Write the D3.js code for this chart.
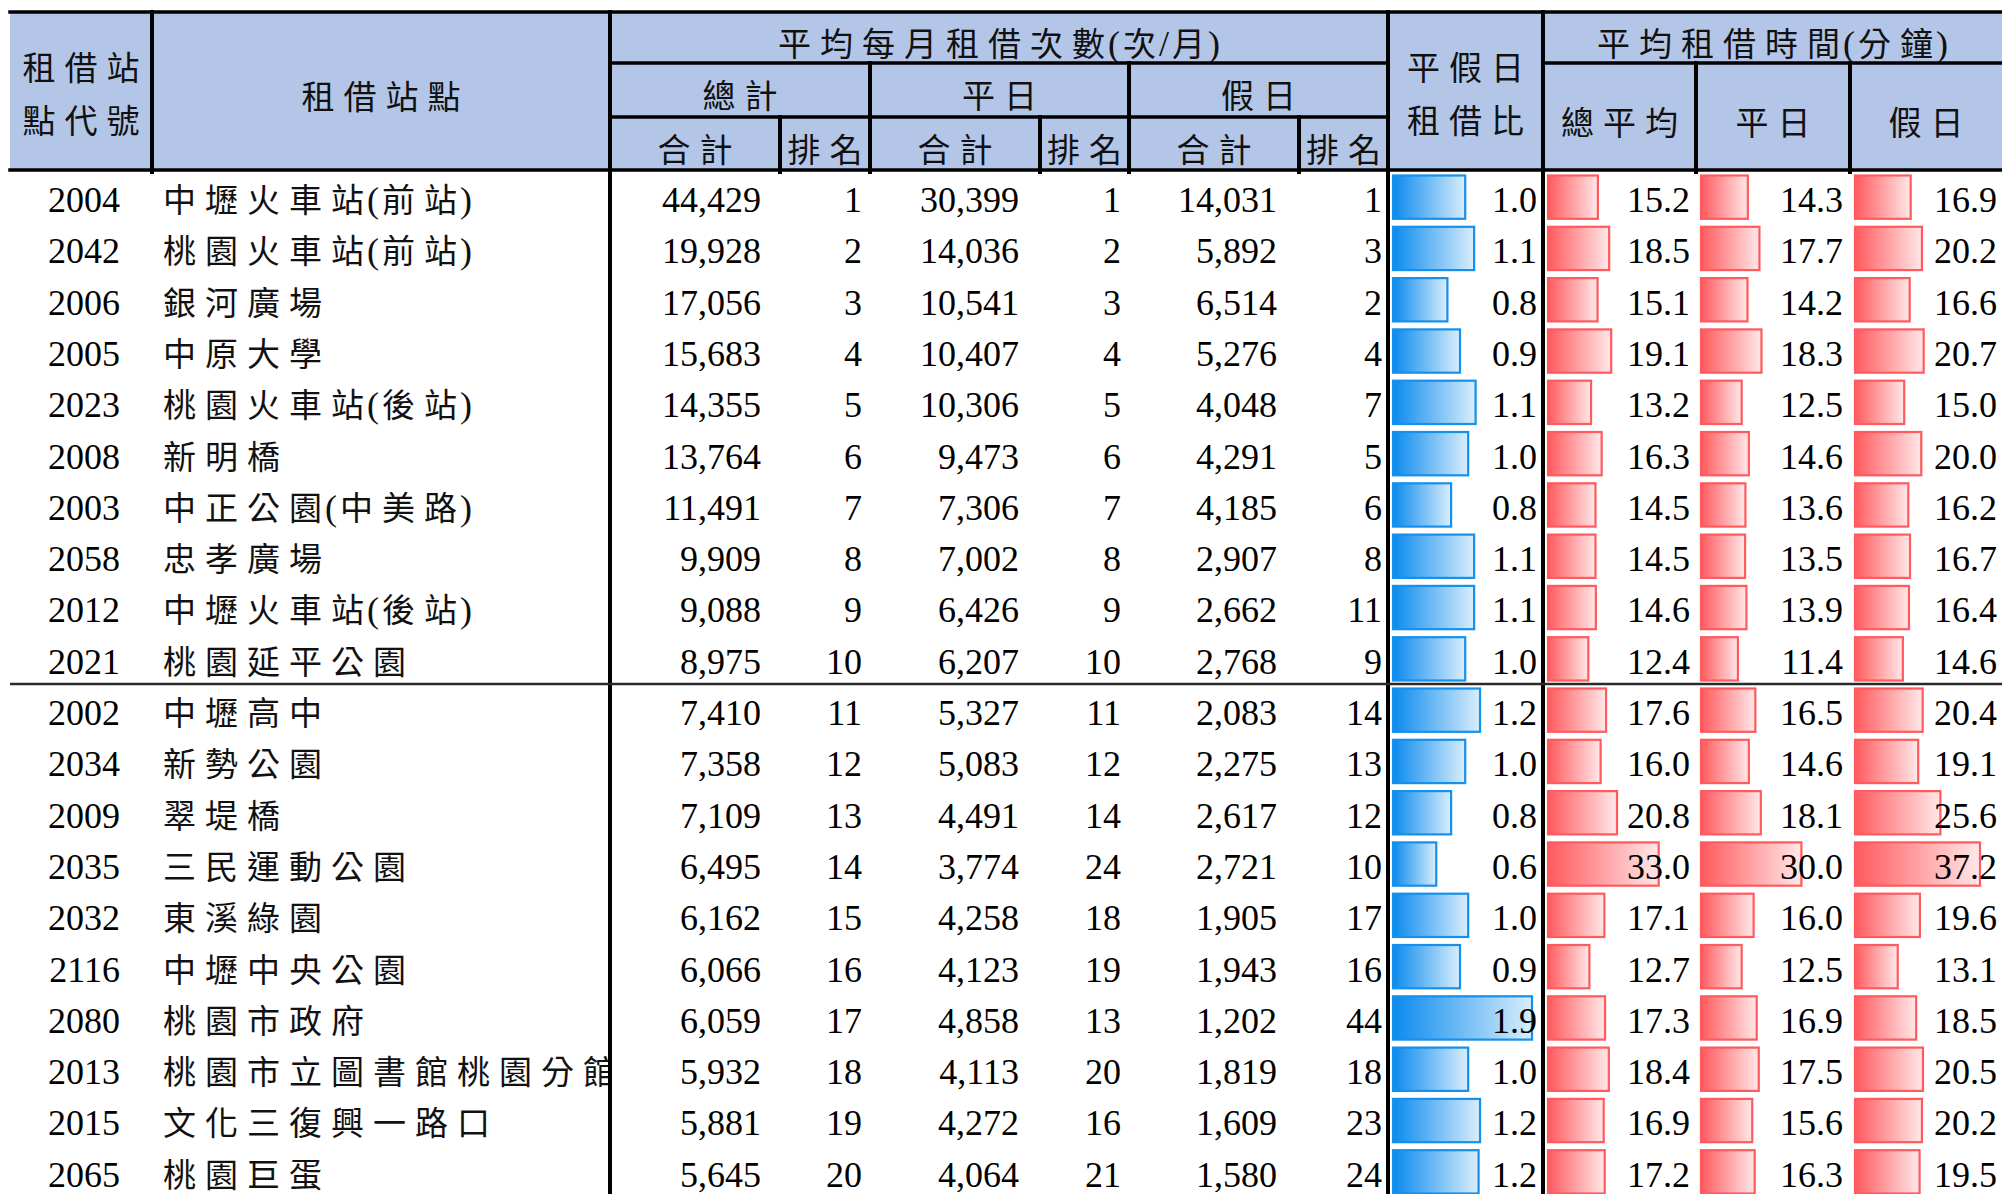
<!DOCTYPE html>
<html lang="zh-Hant">
<head>
<meta charset="utf-8">
<title>租借站點統計</title>
<script src="https://d3js.org/d3.v7.min.js"></script>
<style>
  body { margin: 0; background: #fff; overflow: hidden; }
  .num { font-family: "Liberation Serif", "Times New Roman", serif; font-size: 36px; fill: #000; }
  .cjk { font-family: "Liberation Serif", "Noto Sans CJK TC", serif; font-size: 33px; fill: #111; }
</style>
</head>
<body>
<script>
var codes = ["2004","2042","2006","2005","2023","2008","2003","2058","2012","2021",
             "2002","2034","2009","2035","2032","2116","2080","2013","2015","2065"];
var names = ["中壢火車站(前站)","桃園火車站(前站)","銀河廣場","中原大學","桃園火車站(後站)",
             "新明橋","中正公園(中美路)","忠孝廣場","中壢火車站(後站)","桃園延平公園",
             "中壢高中","新勢公園","翠堤橋","三民運動公園","東溪綠園",
             "中壢中央公園","桃園市政府","桃園市立圖書館桃園分館","文化三復興一路口","桃園巨蛋"];
var totalCnt  = [44429,19928,17056,15683,14355,13764,11491,9909,9088,8975,
                 7410,7358,7109,6495,6162,6066,6059,5932,5881,5645];
var totalRank = [1,2,3,4,5,6,7,8,9,10,11,12,13,14,15,16,17,18,19,20];
var wkdCnt    = [30399,14036,10541,10407,10306,9473,7306,7002,6426,6207,
                 5327,5083,4491,3774,4258,4123,4858,4113,4272,4064];
var wkdRank   = [1,2,3,4,5,6,7,8,9,10,11,12,14,24,18,19,13,20,16,21];
var holCnt    = [14031,5892,6514,5276,4048,4291,4185,2907,2662,2768,
                 2083,2275,2617,2721,1905,1943,1202,1819,1609,1580];
var holRank   = [1,3,2,4,7,5,6,8,11,9,14,13,12,10,17,16,44,18,23,24];
var ratio     = [1.00,1.12,0.76,0.93,1.14,1.04,0.81,1.12,1.12,1.00,
                 1.20,1.00,0.81,0.61,1.04,0.93,1.90,1.04,1.20,1.18];
var avgTime   = [15.2,18.5,15.1,19.1,13.2,16.3,14.5,14.5,14.6,12.4,
                 17.6,16.0,20.8,33.0,17.1,12.7,17.3,18.4,16.9,17.2];
var wkdTime   = [14.3,17.7,14.2,18.3,12.5,14.6,13.6,13.5,13.9,11.4,
                 16.5,14.6,18.1,30.0,16.0,12.5,16.9,17.5,15.6,16.3];
var holTime   = [16.9,20.2,16.6,20.7,15.0,20.0,16.2,16.7,16.4,14.6,
                 20.4,19.1,25.6,37.2,19.6,13.1,18.5,20.5,20.2,19.5];

// header labels: [first col, last col, first row, last row, lines]
var headers = [
  [0, 0, 0, 2, ["租借站", "點代號"]],
  [1, 1, 0, 2, ["租借站點"]],
  [2, 7, 0, 0, ["平均每月租借次數(次/月)"]],
  [2, 3, 1, 1, ["總計"]],
  [4, 5, 1, 1, ["平日"]],
  [6, 7, 1, 1, ["假日"]],
  [2, 2, 2, 2, ["合計"]], [3, 3, 2, 2, ["排名"]],
  [4, 4, 2, 2, ["合計"]], [5, 5, 2, 2, ["排名"]],
  [6, 6, 2, 2, ["合計"]], [7, 7, 2, 2, ["排名"]],
  [8, 8, 0, 2, ["平假日", "租借比"]],
  [9, 11, 0, 0, ["平均租借時間(分鐘)"]],
  [9, 9, 1, 2, ["總平均"]],
  [10, 10, 1, 2, ["平日"]],
  [11, 11, 1, 2, ["假日"]]
];

// --- layout ---
var W = 2002, H = 1194;
var edges = [10, 152, 610, 780, 870, 1040, 1129, 1299, 1388, 1543, 1696, 1850, 2002];
var hRows = [12, 63, 117, 170];
var rowH = 51.3, bodyTop = 172;

var svg = d3.select("body").append("svg")
  .attr("width", W).attr("height", H);

var defs = svg.append("defs");
function grad(id, c0, c1) {
  var g = defs.append("linearGradient").attr("id", id);
  g.append("stop").attr("offset", "0%").attr("stop-color", c0);
  g.append("stop").attr("offset", "100%").attr("stop-color", c1);
}
grad("gBlue", "#0A8AEE", "#D9EEFC");
grad("gRed", "#FF5A5E", "#FFE8E9");
defs.append("clipPath").attr("id", "nameClip")
  .append("rect").attr("x", edges[1]).attr("y", 0)
  .attr("width", edges[2] - edges[1] - 2).attr("height", H);

// chinese text with spacing between ideographs, tighter around ascii
function isAscii(c) { return c.charCodeAt(0) < 256; }
function spaced(sel, str) {
  var ch = Array.from(str);
  sel.selectAll("tspan")
    .data(ch)
    .enter().append("tspan")
    .style("font-size", function(c) { return isAscii(c) ? "36px" : null; })
    .style("letter-spacing", function(c, i) {
      var nx = ch[i + 1];
      if (nx === undefined) return "0px";
      return (isAscii(c) || isAscii(nx)) ? "3px" : "9px";
    })
    .text(function(c) { return c; });
}

// header background
svg.append("rect")
  .attr("x", edges[0]).attr("y", hRows[0])
  .attr("width", W - edges[0]).attr("height", hRows[3] - hRows[0])
  .attr("fill", "#B4C6E7");

// rows
var y = d3.scaleBand()
  .domain(d3.range(codes.length))
  .range([bodyTop, bodyTop + rowH * codes.length]);

var xRatio = d3.scaleLinear().domain([0, d3.max(ratio)]).range([0, 141]);
var xTime = d3.scaleLinear()
  .domain([0, d3.max([d3.max(avgTime), d3.max(wkdTime), d3.max(holTime)])])
  .range([0, 127]);

var fmtInt = d3.format(",");
var fmt1 = d3.format(".1f");

// data bars
function bars(vals, col, scale, fill, stroke) {
  svg.append("g").selectAll("rect")
    .data(vals)
    .enter().append("rect")
    .attr("x", edges[col] + 5)
    .attr("y", function(d, i) { return y(i) + 3.5; })
    .attr("width", function(d) { return scale(d) - 2; })
    .attr("height", y.bandwidth() - 8)
    .attr("fill", "url(#" + fill + ")")
    .attr("stroke", stroke)
    .attr("stroke-width", 2.2);
}
bars(ratio, 8, xRatio, "gBlue", "#1590EC");
bars(avgTime, 9, xTime, "gRed", "#FF5A5E");
bars(wkdTime, 10, xTime, "gRed", "#FF5A5E");
bars(holTime, 11, xTime, "gRed", "#FF5A5E");

// numbers, right aligned
function numCol(vals, xRight, f) {
  svg.append("g").selectAll("text")
    .data(vals)
    .enter().append("text")
    .attr("class", "num")
    .attr("text-anchor", "end")
    .attr("x", xRight)
    .attr("y", function(d, i) { return y(i) + 40; })
    .text(f);
}
numCol(codes, 120, function(d) { return d; });
numCol(totalCnt, 761, fmtInt);
numCol(totalRank, 862, fmtInt);
numCol(wkdCnt, 1019, fmtInt);
numCol(wkdRank, 1121, fmtInt);
numCol(holCnt, 1277, fmtInt);
numCol(holRank, 1382, fmtInt);
numCol(ratio, 1537, fmt1);
numCol(avgTime, 1690, fmt1);
numCol(wkdTime, 1843, fmt1);
numCol(holTime, 1997, fmt1);

// station names
svg.append("g").attr("clip-path", "url(#nameClip)")
  .selectAll("text")
  .data(names)
  .enter().append("text")
  .attr("class", "cjk")
  .attr("x", 163)
  .attr("y", function(d, i) { return y(i) + 40; })
  .each(function(d) { spaced(d3.select(this), d); });

// header texts and borders
var lines = svg.append("g").attr("stroke", "#000").attr("stroke-linecap", "square");
headers.forEach(function(h) {
  var x0 = edges[h[0]], x1 = edges[h[1] + 1];
  var y0 = hRows[h[2]], y1 = hRows[h[3] + 1];
  var cx = (x0 + x1) / 2, cy = (y0 + y1) / 2;
  var n = h[4].length;
  h[4].forEach(function(t, k) {
    var vc = n === 1 ? cy + 6 : cy + 3 + (k - (n - 1) / 2) * 53;
    var tx = svg.append("text")
      .attr("class", "cjk")
      .attr("text-anchor", "middle")
      .attr("x", cx)
      .attr("y", vc + 12);
    spaced(tx, t);
  });
  lines.append("line").attr("x1", x0).attr("x2", x1).attr("y1", y1).attr("y2", y1)
    .attr("stroke-width", 3.5);
  if (x0 > edges[0]) {
    lines.append("line").attr("x1", x0).attr("x2", x0).attr("y1", y0).attr("y2", y1 + 2)
      .attr("stroke-width", 4);
  }
});
// top border
lines.append("line").attr("x1", edges[0]).attr("x2", W).attr("y1", hRows[0]).attr("y2", hRows[0])
  .attr("stroke-width", 3.5);
// full height dividers
[2, 8, 9].forEach(function(c) {
  lines.append("line").attr("x1", edges[c]).attr("x2", edges[c])
    .attr("y1", hRows[0]).attr("y2", H).attr("stroke-width", 4);
});
// separator after the top ten
svg.append("line")
  .attr("x1", edges[0]).attr("x2", W)
  .attr("y1", y(10) - 1).attr("y2", y(10) - 1)
  .attr("stroke", "#2a2a2a").attr("stroke-width", 2.5);
</script>
</body>
</html>
